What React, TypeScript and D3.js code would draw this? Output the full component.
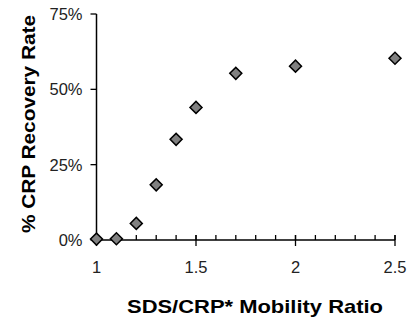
import React from 'react';
import * as d3 from 'd3';

const ratios = [1.0, 1.1, 1.2, 1.3, 1.4, 1.5, 1.7, 2.0, 2.5];
const recovery = [0.003, 0.004, 0.055, 0.183, 0.334, 0.44, 0.553, 0.577, 0.603];
const xTicks = [1, 1.5, 2, 2.5];
const xMinorTicks = d3.range(1, 2.51, 0.1);
const yTicks = [0, 0.25, 0.5, 0.75];

const W = 415;
const H = 320;

const App: React.FC = () => {
  const x = d3.scaleLinear().domain([1, 2.5]).range([96.5, 395]);
  const y = d3.scaleLinear().domain([0, 0.75]).range([240, 14]);
  const diamond = d3.symbol().type(d3.symbolSquare).size(72)();
  const font = '"Liberation Sans", Arial, sans-serif';
  const x0 = x(1);
  const y0 = y(0);

  return (
    <div style={{ position: 'absolute', left: 0, top: 0 }}>
      <svg width={W} height={H} style={{ display: 'block', background: '#fff' }}>
        {/* y axis */}
        <line x1={x0} x2={x0} y1={y(0.75)} y2={y0} stroke="#000" strokeWidth={1.5} />
        {yTicks.map(t => (
          <g key={t}>
            <line x1={x0 - 6} x2={x0} y1={y(t)} y2={y(t)} stroke="#000" strokeWidth={1.3} />
            <text x={x0 - 14} y={y(t) + 6} textAnchor="end" fontSize={16.5} fontFamily={font} fill="#222">
              {d3.format('.0%')(t)}
            </text>
          </g>
        ))}
        {/* x axis */}
        <line x1={x0} x2={x(2.5)} y1={y0} y2={y0} stroke="#000" strokeWidth={1.5} />
        {xMinorTicks.map((t, i) => (
          <line key={i} x1={x(t)} x2={x(t)} y1={y0 - 5} y2={y0} stroke="#000" strokeWidth={1.3} />
        ))}
        {xTicks.map(t => (
          <g key={t}>
            <line x1={x(t)} x2={x(t)} y1={y0 - 5} y2={y0 + 6} stroke="#000" strokeWidth={1.3} />
            <text x={x(t)} y={273} textAnchor="middle" fontSize={16.5} fontFamily={font} fill="#222">
              {t}
            </text>
          </g>
        ))}
        {/* points */}
        {ratios.map((r, i) => (
          <path
            key={i}
            d={diamond || ''}
            transform={`translate(${x(r)},${y(recovery[i])}) rotate(45)`}
            fill="#808080"
            stroke="#000"
            strokeWidth={1.5}
          />
        ))}
        {/* titles */}
        <text
          x={255}
          y={312.5}
          textAnchor="middle"
          fontSize={19}
          fontWeight="bold"
          fontFamily={font}
          fill="#000"
          textLength={256}
          lengthAdjust="spacingAndGlyphs"
        >
          SDS/CRP* Mobility Ratio
        </text>
        <text
          transform={`translate(35,124) rotate(-90)`}
          textAnchor="middle"
          fontSize={19}
          fontWeight="bold"
          fontFamily={font}
          fill="#000"
          textLength={218}
          lengthAdjust="spacingAndGlyphs"
        >
          % CRP Recovery Rate
        </text>
      </svg>
    </div>
  );
};

export default App;
